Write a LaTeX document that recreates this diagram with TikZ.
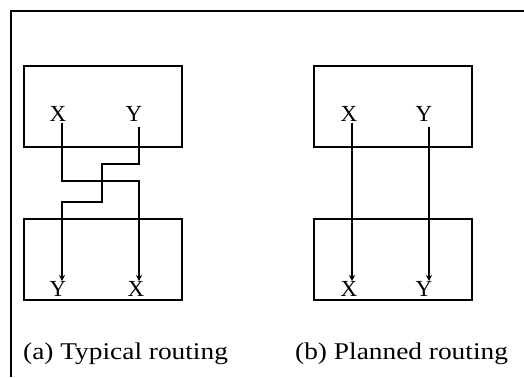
\documentclass[tikz,border=0pt]{standalone}
\usepackage{fontspec}
\usepackage{graphicx}
\setmainfont{Liberation Serif}
\usetikzlibrary{arrows.meta}
\begin{document}
\begin{tikzpicture}[x=1pt,y=1pt,
  frame/.style={line width=2.6pt,black},
  blk/.style={draw,line width=1.9pt,minimum width=158pt,minimum height=81pt,inner sep=0pt,anchor=south west},
  lbl/.style={inner sep=0pt,font=\fontsize{23}{26}\selectfont},
  wire/.style={line width=1.7pt,-{Stealth[length=6pt,width=6pt]}},
  captext/.style={inner sep=0pt,anchor=base west,font=\fontsize{24}{28}\selectfont}]
\useasboundingbox (0,0) rectangle (524,377);
\fill[white] (0,0) rectangle (524,377);
% frame (only left and top edges visible)
\draw[frame] (11,0) -- (11,366) -- (524,366);
% (a) blocks
\node[blk] (at) at (23,229) {};
\node[blk] (ab) at (23,76) {};
% (b) blocks
\node[blk] (bt) at (313,229) {};
\node[blk] (bb) at (313,76) {};
% labels (a)
\node[lbl] (atx) at (58,263) {X};
\node[lbl] (aty) at (134,263) {Y};
\node[lbl] (aby) at (58,88) {Y};
\node[lbl] (abx) at (136,88) {X};
% labels (b)
\node[lbl] (btx) at (349,263) {X};
\node[lbl] (bty) at (424,263) {Y};
\node[lbl] (bbx) at (349,88) {X};
\node[lbl] (bby) at (424,88) {Y};
% wire endpoints
\coordinate (ax0) at (62,254);
\coordinate (ax1) at (139,96);
\coordinate (ay0) at (139,250);
\coordinate (ay1) at (62,96);
\coordinate (bx0) at (352,254);
\coordinate (bx1) at (352,96);
\coordinate (by0) at (429,250);
\coordinate (by1) at (429,96);
% (a) typical routing
\draw[wire] (ax0) -- (62,196) -- (139,196) -- (ax1);
\draw[wire] (ay0) -- (139,213) -- (102,213) -- (102,175) -- (62,175) -- (ay1);
% (b) planned routing
\draw[wire] (bx0) -- (bx1);
\draw[wire] (by0) -- (by1);
% captions
\node[captext] (capa) at (23,17) {\scalebox{1.14}[1]{(a) Typical routing}};
\node[captext] (capb) at (295,17) {\scalebox{1.14}[1]{(b) Planned routing}};
\end{tikzpicture}
\end{document}
